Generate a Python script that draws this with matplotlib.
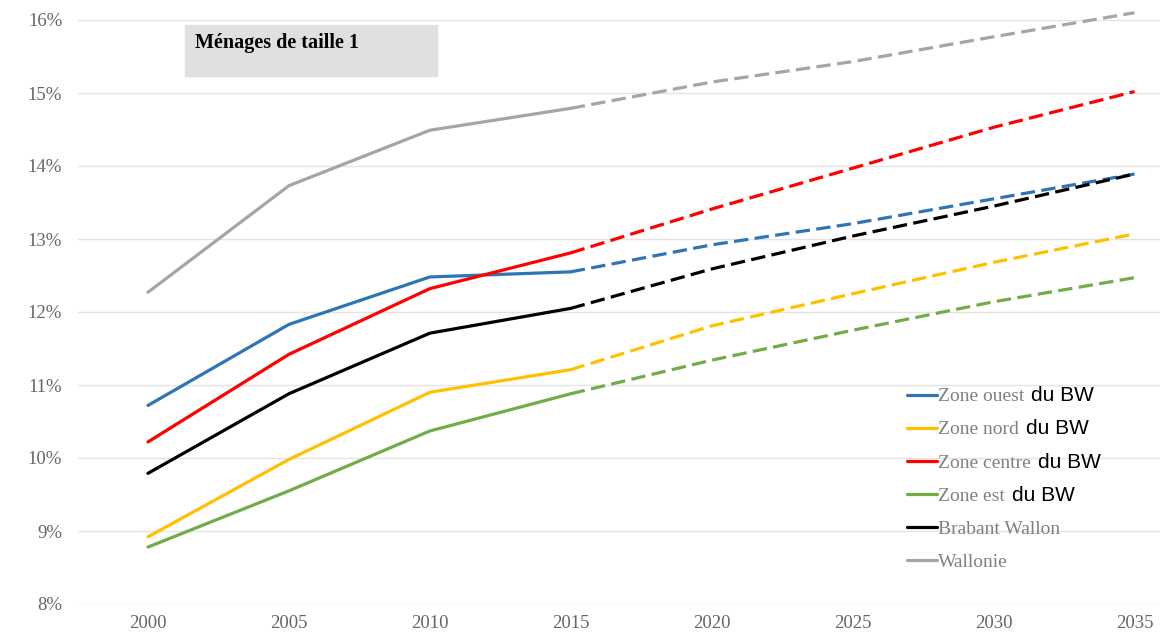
import matplotlib.pyplot as plt
from matplotlib.patches import Rectangle

years = [2000, 2005, 2010, 2015, 2020, 2025, 2030, 2035]

zone_ouest = [10.72, 11.83, 12.48, 12.55, 12.92, 13.21, 13.55, 13.89]
zone_nord = [8.92, 9.98, 10.90, 11.21, 11.81, 12.25, 12.68, 13.07]
zone_centre = [10.22, 11.42, 12.32, 12.81, 13.41, 13.97, 14.53, 15.02]
zone_est = [8.78, 9.55, 10.37, 10.88, 11.34, 11.75, 12.14, 12.47]
brabant = [9.79, 10.88, 11.71, 12.05, 12.59, 13.04, 13.45, 13.89]
wallonie = [12.27, 13.73, 14.49, 14.79, 15.15, 15.43, 15.77, 16.10]

names = ['Zone ouest', 'Zone nord', 'Zone centre', 'Zone est', 'Brabant Wallon', 'Wallonie']
suffix = ['du BW', 'du BW', 'du BW', 'du BW', '', '']
series = [zone_ouest, zone_nord, zone_centre, zone_est, brabant, wallonie]
colors = ['#2e75b6', '#ffc000', '#ff0000', '#70ad47', '#000000', '#a5a5a5']

yticks = [8, 9, 10, 11, 12, 13, 14, 15, 16]

W, H = 1160, 634
fig = plt.figure(figsize=(W / 100, H / 100), dpi=100)
ax = fig.add_axes([77.5 / W, 30 / H, 1127.5 / W, 584 / H])

serif = 'Liberation Serif'
handles = []
for vals, col in zip(series, colors):
    # observed part solid, projection dashed
    h, = ax.plot(years[:4], vals[:4], color=col, lw=2.3, solid_capstyle='round', clip_on=False)
    ax.plot(years[3:], vals[3:], color=col, lw=2.3, dashes=(4.5, 2), clip_on=False)
    handles.append(h)

ax.set_xlim(1997.5, 2037.5)
ax.set_ylim(8, 16)
ax.set_xticks(years)
ax.set_yticks(yticks)
ax.set_yticklabels(['%d%%' % v for v in yticks])
ax.tick_params(length=0, labelsize=13.5, labelcolor='#666666')
ax.tick_params(axis='x', pad=8)
ax.tick_params(axis='y', pad=11)
for lab in ax.get_xticklabels() + ax.get_yticklabels():
    lab.set_family(serif)
ax.grid(axis='y', color='#e4e4e4', lw=1)
ax.set_axisbelow(True)
for s in ax.spines.values():
    s.set_visible(False)

# title box
fig.patches.append(Rectangle((185 / W, 1 - 76 / H), 252 / W, 51 / H,
                             transform=fig.transFigure, color='#e0e0e0', zorder=0))
fig.text(195 / W, 1 - 43 / H, 'Ménages de taille 1', family=serif,
         fontweight='bold', fontsize=14.5, va='center', ha='left')

leg = fig.legend(handles, names, loc='upper left', bbox_to_anchor=(897 / W, 1 - 378 / H),
                 frameon=False, prop={'family': serif, 'size': 14}, handlelength=1.55,
                 handletextpad=0.05, labelspacing=0.8, borderpad=0)
for txt in leg.get_texts():
    txt.set_color('#808080')

fig.canvas.draw()
for txt, suf in zip(leg.get_texts(), suffix):
    if suf:
        bb = txt.get_window_extent()
        fig.text((bb.x1 + 7) / W, bb.y0 / H, suf, va='bottom', ha='left',
                 family='Liberation Sans', fontsize=15, color='black')

fig.savefig('out.png', dpi=100)
